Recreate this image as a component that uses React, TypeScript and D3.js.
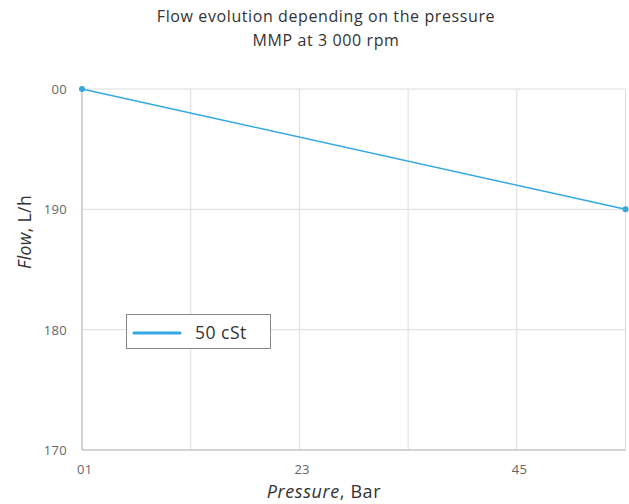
import React from "react";
import * as d3 from "d3";

const pressure = [0, 5];
const flow = [200, 190];
const xGrid = [0, 1, 2, 3, 4, 5];
const xTickValues = [0, 2, 4];
const xTickLabels = ["01", "23", "45"];
const yTickValues = [200, 190, 180, 170];
const yTickLabels = ["00", "190", "180", "170"];
const seriesName = "50 cSt";
const titleLines = ["Flow evolution depending on the pressure", "MMP at 3 000 rpm"];

export default function App() {
  const W = 629, H = 504;
  const left = 82, right = 625.5, top = 89, bottom = 450;
  const x = d3.scaleLinear().domain([0, 5]).range([left, right]);
  const y = d3.scaleLinear().domain([170, 200]).range([bottom, top]);
  const pts = pressure.map((p, i) => [x(p), y(flow[i])] as [number, number]);
  const line = d3.line()(pts) || "";
  const font = "'Open Sans', sans-serif";
  const color = "#33a8e0";
  return (
    <svg width={W} height={H} style={{ position: "absolute", left: 0, top: 0 }} fontFamily={font}>
      <rect width={W} height={H} fill="#fff" />
      {titleLines.map((t, i) => (
        <text key={i} x={326} y={22 + i * 24} textAnchor="middle" fontSize={16} letterSpacing={0.6} fill="#333">{t}</text>
      ))}
      {yTickValues.map((v) => (
        <line key={"gy" + v} x1={left} x2={right} y1={y(v)} y2={y(v)} stroke="#dcdcdc" strokeWidth={1} />
      ))}
      {xGrid.map((v) => (
        <line key={"gx" + v} x1={x(v)} x2={x(v)} y1={top} y2={bottom} stroke="#dcdcdc" strokeWidth={1} />
      ))}
      <line x1={left} x2={left} y1={top} y2={bottom} stroke="#bbb" />
      <line x1={left} x2={right} y1={bottom} y2={bottom} stroke="#bbb" />
      {yTickValues.map((v, i) => (
        <text key={"ty" + v} x={67} y={y(v) + 5} textAnchor="end" fontSize={13} letterSpacing={0.3} fill="#666">{yTickLabels[i]}</text>
      ))}
      {xTickValues.map((v, i) => (
        <text key={"tx" + v} x={x(v) - 5} y={474} textAnchor="start" fontSize={13} letterSpacing={0.3} fill="#666">{xTickLabels[i]}</text>
      ))}
      <path d={line} fill="none" stroke={color} strokeWidth={1.5} />
      {pts.map((p, i) => (
        <circle key={i} cx={p[0]} cy={p[1]} r={3} fill={color} />
      ))}
      <text x={324} y={498} textAnchor="middle" fontSize={18} letterSpacing={0.6} fill="#333">
        <tspan fontStyle="italic">Pressure</tspan>, Bar
      </text>
      <text transform={`translate(31,${232}) rotate(-90)`} textAnchor="middle" fontSize={17.5} letterSpacing={0.4} fill="#333">
        <tspan fontStyle="italic">Flow</tspan>, L/h
      </text>
      <rect x={126.5} y={314.5} width={144} height={34} fill="#fff" stroke="#888" />
      <line x1={134} x2={180} y1={333} y2={333} stroke={color} strokeWidth={3} strokeLinecap="round" />
      <text x={195} y={339} fontSize={17.5} letterSpacing={0.5} fill="#333">{seriesName}</text>
    </svg>
  );
}
